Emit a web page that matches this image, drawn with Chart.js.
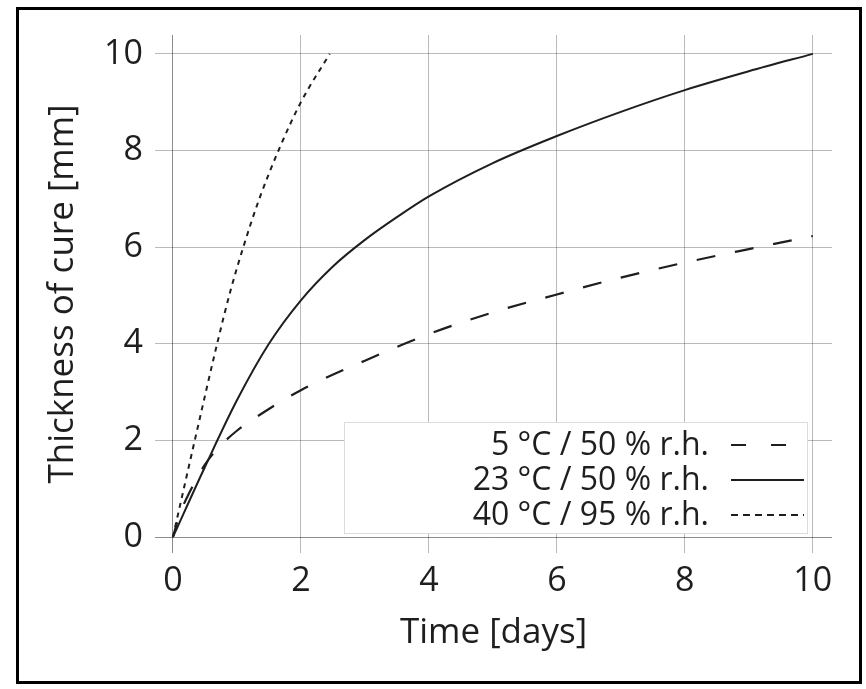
<!DOCTYPE html>
<html lang="en">
<head>
    <meta charset="UTF-8">
    <title>Thickness of cure</title>
    <style>
        body { margin: 0; background: #fff; }
        canvas { display: block; }
    </style>
</head>
<body>
    <canvas id="cureChart" width="866" height="689"></canvas>

    <script src="https://cdn.jsdelivr.net/npm/chart.js"></script>
    <script>
        // Values
        const days5 = [0, 0.1, 0.25, 0.5, 0.75, 1, 1.5, 2, 3, 4, 5, 6, 7, 8, 9, 10];
        const cure5 = [0, 0.45, 0.9, 1.5, 1.9, 2.2, 2.65, 3.04, 3.65, 4.2, 4.65, 5.02, 5.37, 5.68, 5.96, 6.23];

        const days23 = [0, 0.5, 1, 1.5, 2, 2.5, 3, 3.5, 4, 5, 6, 7, 8, 9, 10];
        const cure23 = [0, 1.45, 2.83, 4.0, 4.9, 5.6, 6.15, 6.62, 7.05, 7.74, 8.3, 8.8, 9.25, 9.64, 10];

        const days40 = [0, 0.175, 0.35, 0.7, 0.9, 1.1, 1.35, 1.65, 2.0, 2.45];
        const cure40 = [0, 1.03, 2.05, 4.05, 5.1, 6.0, 7.0, 8.0, 9.0, 10];

        const labels = ['5 °C / 50 % r.h.', '23 °C / 50 % r.h.', '40 °C / 95 % r.h.'];
        const xTicks = [0, 2, 4, 6, 8, 10];
        const yTicks = [0, 2, 4, 6, 8, 10];

        const FONT = "'Open Sans', 'Noto Sans', sans-serif";
        const INK = '#1e1e1e';

        const pts = (xs, ys) => xs.map((x, i) => ({ x: x, y: ys[i] }));

        // legend box in the lower right, drawn over the grid
        const boxLegend = {
            id: 'boxLegend',
            afterDraw(chart) {
                const ctx = chart.ctx;
                const left = 344, top = 422, right = 808, bottom = 534;
                ctx.save();
                ctx.fillStyle = '#fff';
                ctx.fillRect(left, top, right - left, bottom - top);
                ctx.strokeStyle = '#dcdcdc';
                ctx.lineWidth = 1;
                ctx.strokeRect(left + 0.5, top + 0.5, right - left - 1, bottom - top - 1);

                ctx.font = '32px ' + FONT;
                ctx.textAlign = 'right';
                ctx.textBaseline = 'middle';
                chart.data.datasets.forEach((ds, i) => {
                    const y = 445 + i * 35;
                    ctx.fillStyle = INK;
                    ctx.fillText(ds.label, 709, y + 1);
                    ctx.beginPath();
                    ctx.setLineDash(ds.legendDash || ds.borderDash || []);
                    ctx.strokeStyle = ds.borderColor;
                    ctx.lineWidth = ds.borderWidth;
                    ctx.moveTo(731, y);
                    ctx.lineTo(804, y);
                    ctx.stroke();
                });
                ctx.setLineDash([]);

                // outer frame
                ctx.strokeStyle = '#000';
                ctx.lineWidth = 3;
                ctx.strokeRect(17.5, 8.5, 843, 674);
                ctx.restore();
            }
        };

        const gridColor = c => c.tick && c.tick.value === 0 ? 'rgba(0,0,0,0.45)' : 'rgba(0,0,0,0.27)';

        new Chart(document.getElementById('cureChart').getContext('2d'), {
            type: 'line',
            data: {
                datasets: [
                    { label: labels[0], data: pts(days5, cure5), borderColor: INK, borderWidth: 2.2, borderDash: [19, 20], borderDashOffset: 4, legendDash: [15, 25] },
                    { label: labels[1], data: pts(days23, cure23), borderColor: INK, borderWidth: 2 },
                    { label: labels[2], data: pts(days40, cure40), borderColor: INK, borderWidth: 2, borderDash: [5, 5], legendDash: [7, 5] }
                ]
            },
            options: {
                responsive: false,
                animation: false,
                layout: { padding: { top: 35, right: 34, left: 0, bottom: 0 } },
                elements: {
                    point: { radius: 0 },
                    line: { cubicInterpolationMode: 'monotone', fill: false }
                },
                plugins: {
                    legend: { display: false },
                    tooltip: { enabled: false }
                },
                scales: {
                    x: {
                        type: 'linear',
                        min: -0.28,
                        max: 10.3,
                        afterBuildTicks: s => { s.ticks = xTicks.map(v => ({ value: v })); },
                        afterFit: s => { s.height = 136; },
                        border: { display: false },
                        grid: { drawTicks: false, color: gridColor, lineWidth: 1 },
                        ticks: { padding: 8, color: INK, font: { family: FONT, size: 34 }, maxRotation: 0, autoSkip: false, callback: v => String(v) },
                        title: { display: true, text: 'Time [days]', color: INK, font: { family: FONT, size: 35 }, padding: { top: 0, bottom: 35 } }
                    },
                    y: {
                        type: 'linear',
                        min: -0.33,
                        max: 10.39,
                        afterBuildTicks: s => { s.ticks = yTicks.map(v => ({ value: v })); },
                        afterFit: s => { s.width = 155; },
                        border: { display: false },
                        grid: { drawTicks: false, color: gridColor, lineWidth: 1 },
                        ticks: { padding: 12, color: INK, font: { family: FONT, size: 34 }, autoSkip: false, callback: v => String(v) },
                        title: { display: true, text: 'Thickness of cure [mm]', color: INK, font: { family: FONT, size: 35 }, padding: { top: 42, bottom: 0 } }
                    }
                }
            },
            plugins: [boxLegend]
        });
    </script>
</body>
</html>
